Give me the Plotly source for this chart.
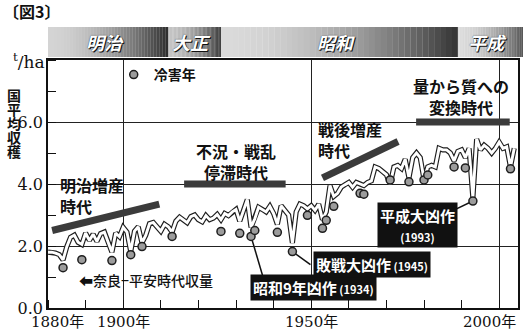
import plotly.graph_objects as go

# ---------------- data ----------------
years = list(range(1880, 2005))
yields = [
    1.80, 1.80, 1.77, 1.72, 1.55, 1.98, 2.28, 2.35, 2.12, 2.05,  # 1880s
    2.42, 2.18, 2.38, 2.15, 2.40, 2.45, 2.12, 1.80, 2.42, 2.30,  # 1890s
    2.60, 2.45, 1.82, 2.48, 2.62, 2.10, 2.35, 2.72, 2.76, 2.62,  # 1900s
    2.48, 2.70, 2.62, 2.45, 2.80, 2.93, 2.85, 2.75, 2.95, 3.00,  # 1910s
    2.85, 2.78, 2.98, 2.85, 2.90, 3.02, 2.85, 3.05, 2.98, 3.10,  # 1920s
    3.18, 2.80, 3.15, 3.50, 2.60, 2.88, 3.25, 3.18, 3.10, 3.28,  # 1930s
    3.05, 2.70, 3.30, 3.15, 3.00, 2.10, 3.10, 3.35, 3.30, 3.20,  # 1940s
    3.30, 3.15, 3.35, 2.85, 3.10, 3.95, 3.60, 3.70, 3.90, 3.98,  # 1950s
    4.05, 3.90, 4.05, 4.00, 3.95, 4.05, 4.10, 4.55, 4.50, 4.40,  # 1960s
    4.30, 4.00, 4.55, 4.60, 4.50, 4.80, 4.20, 4.85, 5.00, 4.85,  # 1970s
    4.15, 4.55, 4.60, 4.55, 5.15, 5.10, 5.10, 5.00, 4.75, 5.05,  # 1980s
    5.10, 4.85, 5.15, 3.55, 5.45, 5.10, 5.25, 5.15, 5.00, 5.15,  # 1990s
    5.35, 5.15, 5.20, 4.55, 5.15,                                # 2000s
]

cold_years = [1884, 1889, 1897, 1902, 1905, 1913, 1926, 1931, 1934, 1935, 1941,
              1945, 1949, 1953, 1954, 1956, 1963, 1964, 1971, 1976, 1980, 1981,
              1988, 1991, 1993, 2003]
cold_marks = [1.30, 1.56, 1.53, 1.72, 1.98, 2.31, 2.47, 2.41, 2.31, 2.50, 2.44,
              1.82, 2.99, 2.57, 2.83, 3.28, 3.70, 3.67, 4.13, 4.07, 4.13, 4.29,
              4.55, 4.52, 3.45, 4.49]

era_names = ["明治", "大正", "昭和", "平成"]
era_start = [1868, 1912, 1926, 1989]
era_end = [1912, 1926, 1989, 2019]

period_labels = ["明治増産<br>時代", "不況・戦乱<br>停滞時代", "戦後増産<br>時代", "量から質への<br>変換時代"]
period_x0 = [1881.1, 1916.2, 1953.0, 1977.9]
period_y0 = [2.50, 4.00, 4.20, 6.00]
period_x1 = [1909.6, 1943.2, 1973.1, 2002.8]
period_y1 = [3.35, 4.00, 5.37, 6.00]

callout_years = [1934, 1945, 1993]
callout_main = ["昭和9年凶作", "敗戦大凶作", "平成大凶作"]
callout_sub = [" (1934)", " (1945)", "<br>(1993)"]

y_tickvals = [0, 2, 4, 6]
y_ticktext = ["0.0", "2.0", "4.0", "6.0"]
x_labelyears = [1880, 1900, 1950, 2000]
x_labeltext = ["1880年", "1900年", "1950年", "2000年"]

# ---------------- layout helpers ----------------
W, H = 523, 332
ML, MR, MT, MB = 48, 3, 60, 24
PW, PH = W - ML - MR, H - MT - MB
XR = [1880, 2005]
YR = [0, 8]


def px(xp):
    return (xp - ML) / PW


def py(yp):
    return (H - MB - yp) / PH


def yr2paper(y):
    return (y - XR[0]) / (XR[1] - XR[0])


CJK = "Noto Sans CJK JP"
SERIF = "DejaVu Serif, Noto Sans CJK JP"

fig = go.Figure()

# period bars
for i in range(len(period_labels)):
    fig.add_trace(go.Scatter(
        x=[period_x0[i], period_x1[i]], y=[period_y0[i], period_y1[i]],
        mode="lines", line=dict(color="#3b3b3b", width=7),
        showlegend=False, hoverinfo="skip"))

# double line
fig.add_trace(go.Scatter(x=years, y=yields, mode="lines",
                         line=dict(color="#1e1e1e", width=5.2),
                         showlegend=False, hoverinfo="skip"))
fig.add_trace(go.Scatter(x=years, y=yields, mode="lines",
                         line=dict(color="white", width=2.9),
                         showlegend=False))

# cold-damage dots
fig.add_trace(go.Scatter(x=cold_years, y=cold_marks, mode="markers", name="冷害年",
                         marker=dict(size=8, color="#9c9c9c",
                                     line=dict(color="#1e1e1e", width=1.5)),
                         showlegend=True))

shapes = []
annotations = []

# era bands with gradient
era_style = {
    "明治": ("#d4d4d4", "#2c2c2c"),
    "大正": ("#c4c4c4", "#383838"),
    "昭和": ("#dadada", "#333333"),
    "平成": ("#dcdcdc", "#555555"),
}
N = 40
band_top, band_bot = py(27), py(57)
x_vis_end = XR[0] + (W - ML) / PW * (XR[1] - XR[0])


def hex2rgb(h):
    return [int(h[i:i + 2], 16) for i in (1, 3, 5)]


for name, s, e in zip(era_names, era_start, era_end):
    a, b = max(s, XR[0]), min(e, x_vis_end + 0.5)
    c0, c1 = hex2rgb(era_style[name][0]), hex2rgb(era_style[name][1])
    for k in range(N):
        t = (k + 0.5) / N
        f = t ** 1.8
        col = "rgb(%d,%d,%d)" % tuple(round(c0[j] + (c1[j] - c0[j]) * f) for j in range(3))
        xa = a + (b - a) * k / N
        xb = a + (b - a) * (k + 1) / N + 0.05
        shapes.append(dict(type="rect", xref="paper", yref="paper",
                           x0=yr2paper(xa), x1=yr2paper(xb), y0=band_bot, y1=band_top,
                           line=dict(width=0), fillcolor=col, layer="below"))
    annotations.append(dict(
        x=yr2paper((a + b) / 2), y=py(42), xref="paper", yref="paper",
        xanchor="center", yanchor="middle",
        text=name, showarrow=False, xshift=-3,
        font=dict(family=CJK, size=18, color="white", weight="bold", style="italic",
                  shadow="1px 1px 0 #111, 0 0 1px #111")))

# period texts
period_pos = [(1882.6, 3.62, "left"), (1930.0, 4.72, "center"),
              (1951.4, 5.45, "left"), (1989.8, 6.82, "center")]
for lab, (x, y, anc) in zip(period_labels, period_pos):
    annotations.append(dict(x=x, y=y, xref="x", yref="y", text=lab, showarrow=False,
                            xanchor=anc, yanchor="middle", align=anc,
                            font=dict(family=CJK, size=16, color="#111", weight="bold")))

# callouts
cold_lookup = dict(zip(cold_years, cold_marks))
callout_box = [(1950.7, 0.66), (1966.1, 1.39), (1978.3, 2.68)]
callout_joint = [(1937.4, 0.91), (1949.8, 1.40), (1988.5, 3.19)]
for yrv, main, sub, (bx, by), (jx, jy) in zip(callout_years, callout_main, callout_sub,
                                               callout_box, callout_joint):
    shapes.append(dict(type="line", xref="x", yref="y", x0=yrv, y0=cold_lookup[yrv],
                       x1=jx, y1=jy, line=dict(color="#111", width=1.5), layer="below"))
    annotations.append(dict(
        x=bx, y=by, xref="x", yref="y", showarrow=False,
        xanchor="center", yanchor="middle",
        text=main + "<span style='font-size:11px'>" + sub + "</span>",
        bgcolor="#111", borderpad=2,
        font=dict(family=CJK, size=15, color="white", weight="bold")))

# Nara-Heian note
annotations.append(dict(x=px(77), y=py(280), xref="paper", yref="paper",
                        xanchor="left", yanchor="middle",
                        text="⬅奈良−平安時代収量", showarrow=False,
                        font=dict(family=CJK, size=14, color="#111", weight=500)))

# x labels
x_shift = {1880: 9, 2000: -10}
for yv, t in zip(x_labelyears, x_labeltext):
    annotations.append(dict(x=yv, y=0, xref="x", yref="paper", yanchor="top",
                            xanchor="center",
                            text=t, showarrow=False, yshift=-3, xshift=x_shift.get(yv, 0),
                            font=dict(family=SERIF, size=15, color="#111")))

# y axis title (vertical)
for i, ch in enumerate("国平均収穫"):
    annotations.append(dict(x=px(14), y=py(95 + 14 * i), xref="paper", yref="paper",
                            xanchor="center", yanchor="middle",
                            text=ch, showarrow=False,
                            font=dict(family=CJK, size=14, color="#111", weight="bold")))

# unit
annotations.append(dict(x=px(29), y=py(61), xref="paper", yref="paper",
                        xanchor="center", yanchor="middle",
                        text="<sup>t</sup>/ha", showarrow=False,
                        font=dict(family=SERIF, size=17, color="#111")))
# figure number
annotations.append(dict(x=px(1), y=py(11), xref="paper", yref="paper",
                        xanchor="left", yanchor="middle",
                        text="〔図3〕", showarrow=False,
                        font=dict(family=CJK, size=16, color="#111", weight="bold")))

fig.update_layout(
    width=W, height=H,
    margin=dict(l=ML, r=MR, t=MT, b=MB),
    paper_bgcolor="white", plot_bgcolor="white",
    shapes=shapes, annotations=annotations,
    showlegend=True,
    legend=dict(x=px(114), y=py(75), xanchor="left", yanchor="middle",
                bgcolor="rgba(0,0,0,0)", itemwidth=30,
                font=dict(family=CJK, size=14, color="#111", weight="bold")),
    xaxis=dict(range=XR, tickvals=x_labelyears, showticklabels=False, ticks="",
               showgrid=True, gridcolor="#222", gridwidth=1, zeroline=False,
               showline=True, linecolor="#111", linewidth=1.5, mirror=True,
               minor=dict(dtick=10, tick0=1880, ticks="inside", ticklen=8,
                          tickcolor="#111", tickwidth=1, showgrid=False)),
    yaxis=dict(range=YR, tickvals=y_tickvals, ticktext=y_ticktext, ticks="",
               showgrid=True, gridcolor="#222", gridwidth=1, zeroline=False,
               showline=True, linecolor="#111", linewidth=1.5, mirror=True,
               tickfont=dict(family=SERIF, size=16, color="#111"),
               minor=dict(dtick=1, ticks="inside", ticklen=8,
                          tickcolor="#111", tickwidth=1, showgrid=False)),
)

fig.write_html("out.html")
